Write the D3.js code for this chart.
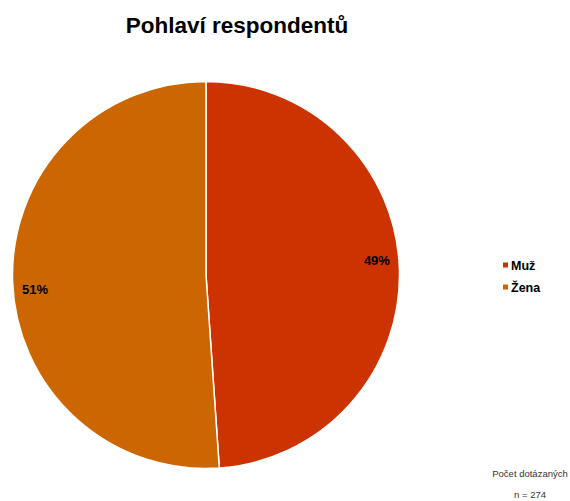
<!DOCTYPE html>
<html>
<head>
<meta charset="utf-8">
<script src="https://cdn.jsdelivr.net/npm/d3@7"></script>
<style>
  body { margin: 0; background: #fff; }
  text { font-family: "Liberation Sans", Arial, sans-serif; }
</style>
</head>
<body>
<div id="chart"></div>
<script>
const categories = ['Muž', 'Žena'];
const values = [134, 140];
const colors = ['#CC3300', '#CC6600'];
const total = 274;

const chart = () => {
  const width = 570;
  const height = 501;
  const cx = 206;
  const cy = 275;
  const radius = 193.5;

  const svg = d3.select('#chart')
    .append('svg')
    .attr('width', width)
    .attr('height', height);

  svg.append('text')
    .attr('x', 237)
    .attr('y', 33)
    .attr('text-anchor', 'middle')
    .attr('font-size', 22.5)
    .attr('font-weight', 'bold')
    .attr('fill', '#000')
    .text('Pohlaví respondentů');

  const data = categories.map((c, i) => ({ name: c, value: values[i] }));
  const color = d3.scaleOrdinal().domain(categories).range(colors);

  const pie = d3.pie()
    .value(d => d.value)
    .sort(null);
  const arcs = pie(data);
  const arc = d3.arc().innerRadius(0).outerRadius(radius);
  const labelArc = d3.arc().innerRadius(171).outerRadius(171);

  const g = svg.append('g')
    .attr('transform', `translate(${cx},${cy})`);

  g.selectAll('path')
    .data(arcs)
    .join('path')
    .attr('d', arc)
    .attr('fill', d => color(d.data.name))
    .attr('stroke', '#fff')
    .attr('stroke-width', 1.5);

  const pct = d3.format('.0%');
  g.selectAll('text')
    .data(arcs)
    .join('text')
    .attr('x', d => labelArc.centroid(d)[0])
    .attr('y', d => labelArc.centroid(d)[1] + (labelArc.centroid(d)[0] > 0 ? -9 : 9))
    .attr('text-anchor', 'middle')
    .attr('dominant-baseline', 'central')
    .attr('font-size', 13)
    .attr('font-weight', 'bold')
    .attr('fill', '#000')
    .text(d => pct(d.data.value / total));

  const legend = svg.append('g')
    .attr('transform', 'translate(503,265)');
  const item = legend.selectAll('g')
    .data(categories)
    .join('g')
    .attr('transform', (d, i) => `translate(0,${i * 22})`);
  item.append('rect')
    .attr('x', 0)
    .attr('y', -2.5)
    .attr('width', 5)
    .attr('height', 5)
    .attr('fill', d => color(d));
  item.append('text')
    .attr('x', 8)
    .attr('y', 0.5)
    .attr('dominant-baseline', 'central')
    .attr('font-size', 12.5)
    .attr('font-weight', 'bold')
    .attr('fill', '#000')
    .text(d => d);

  svg.append('text')
    .attr('x', 530)
    .attr('y', 477)
    .attr('text-anchor', 'middle')
    .attr('font-size', 9.5)
    .attr('fill', '#333')
    .text('Počet dotázaných');
  svg.append('text')
    .attr('x', 530)
    .attr('y', 498)
    .attr('text-anchor', 'middle')
    .attr('font-size', 9.5)
    .attr('fill', '#333')
    .text(`n = ${total}`);
}

chart();
</script>
</body>
</html>
